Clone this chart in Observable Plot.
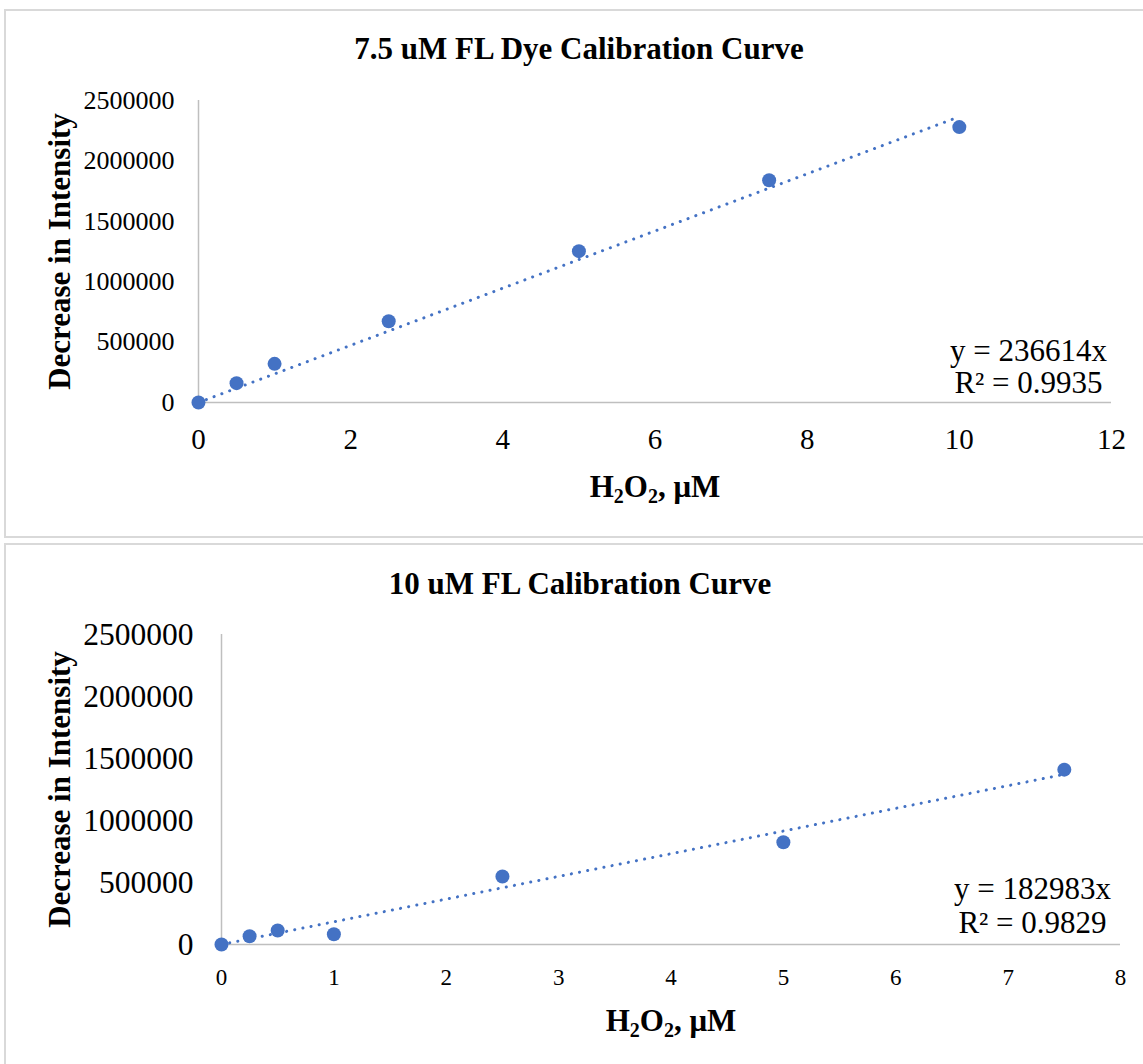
<!DOCTYPE html>
<html>
<head>
<meta charset="utf-8">
<script src="https://cdn.jsdelivr.net/npm/d3@7"></script>
<script src="https://cdn.jsdelivr.net/npm/@observablehq/plot@0.6"></script>
<style>
  body { margin:0; width:1143px; height:1064px; overflow:hidden; background:#fff; position:relative;
         font-family:"Liberation Serif","Times New Roman",serif; color:#000; }
  .box { position:absolute; left:4px; width:1160px; border:2px solid #d9d9d9; box-sizing:border-box; }
  .title { position:absolute; font-weight:bold; font-size:31px; white-space:nowrap; line-height:1;
           transform:translate(-50%,-50%); }
  .chart { position:absolute; left:0; }
  .chart svg { overflow:visible; }
</style>
</head>
<body>
<div class="box" style="top:9px;height:529px"></div>
<div class="box" style="top:543px;height:560px"></div>
<div class="title" style="left:579px;top:48px">7.5 uM FL Dye Calibration Curve</div>
<div class="title" style="left:580px;top:583px">10 uM FL Calibration Curve</div>
<div class="chart" id="c1" style="top:75px"></div>
<div class="chart" id="c2" style="top:610px"></div>
<script>
// ---- data ----
const topX = [0, 0.5, 1, 2.5, 5, 7.5, 10];
const topY = [0, 160000, 320000, 673000, 1253000, 1840000, 2280000];
const topSlope = 236614;
const topEq = "y = 236614x";
const topR2 = "R² = 0.9935";
const topXTicks = [0, 2, 4, 6, 8, 10, 12];

const botX = [0, 0.25, 0.5, 1, 2.5, 5, 7.5];
const botY = [0, 67000, 113000, 83000, 548000, 825000, 1410000];
const botSlope = 182983;
const botEq = "y = 182983x";
const botR2 = "R² = 0.9829";
const botXTicks = [0, 1, 2, 3, 4, 5, 6, 7, 8];

const yTicks = [0, 500000, 1000000, 1500000, 2000000, 2500000];
const xLabel = "H2O2, μM";
const yLabel = "Decrease in Intensity";

const blue = "#4472C4";
const axisGray = "#bfbfbf";

function makeChart(cfg) {
  const pts = cfg.xs.map((x, i) => ({x, y: cfg.ys[i]}));
  const xmax = d3.max(cfg.xs);
  const trend = [{x: 0, y: 0}, {x: xmax, y: cfg.slope * xmax}];
  const svg = Plot.plot({
    width: 1143,
    height: cfg.height,
    marginLeft: cfg.ml, marginRight: cfg.mr, marginTop: cfg.mt, marginBottom: cfg.mb,
    style: {fontFamily: '"Liberation Serif","Times New Roman",serif', background: "transparent", color: "#000"},
    x: {domain: cfg.xdomain},
    y: {domain: [0, 2500000]},
    marks: [
      Plot.ruleX([0], {stroke: axisGray, strokeWidth: 1.5}),
      Plot.ruleY([0], {stroke: axisGray, strokeWidth: 1.5}),
      Plot.axisY({ticks: yTicks, tickSize: 0, tickPadding: cfg.ypad, fontSize: cfg.yfs, label: null,
                  tickFormat: d => String(d)}),
      Plot.axisX({ticks: cfg.xticks, tickSize: 0, tickPadding: cfg.xpad, fontSize: cfg.xfs, label: null,
                  tickFormat: d => String(d)}),
      Plot.line(trend, {x: "x", y: "y", stroke: blue, strokeWidth: 3, strokeDasharray: "0.1 8.2", strokeLinecap: "round"}),
      Plot.dot(pts, {x: "x", y: "y", r: 7, fill: blue, stroke: "none"}),
      Plot.text([cfg.eq], {frameAnchor: "bottom-right", dx: cfg.eqdx, dy: cfg.eqdy1, textAnchor: "middle", lineAnchor: "middle", fontSize: 31}),
      Plot.text([cfg.r2], {frameAnchor: "bottom-right", dx: cfg.eqdx, dy: cfg.eqdy2, textAnchor: "middle", lineAnchor: "middle", fontSize: 31}),
      Plot.text([xLabel], {frameAnchor: "bottom", dy: cfg.xldy, textAnchor: "middle", lineAnchor: "middle", fontSize: 31, fontWeight: "bold"}),
      Plot.text([yLabel], {frameAnchor: "left", dx: cfg.yldx, rotate: -90, textAnchor: "middle", lineAnchor: "middle", fontSize: 31, fontWeight: "bold"})
    ]
  });
  // subscripts in x label
  svg.querySelectorAll("text").forEach(t => {
    if (t.textContent === xLabel) {
      t.textContent = "";
      const ns = "http://www.w3.org/2000/svg";
      const parts = [["H", 0], ["2", 1], ["O", 0], ["2", 1], [", μM", 0]];
      let shifted = false;
      for (const [s, sub] of parts) {
        const ts = document.createElementNS(ns, "tspan");
        ts.textContent = s;
        if (sub) { ts.setAttribute("font-size", "20"); ts.setAttribute("dy", "6"); shifted = true; }
        else if (shifted) { ts.setAttribute("dy", "-6"); shifted = false; }
        t.appendChild(ts);
      }
    }
  });
  return svg;
}

document.getElementById("c1").appendChild(makeChart({
  xs: topX, ys: topY, slope: topSlope, eq: topEq, r2: topR2,
  height: 455, ml: 198, mr: 32, mt: 25, mb: 128,
  xdomain: [0, 12], xticks: topXTicks,
  ypad: 24, yfs: 26, xpad: 26, xfs: 29,
  eqdx: -83, eqdy1: -51, eqdy2: -19,
  xldy: 85, yldx: -138
}));

document.getElementById("c2").appendChild(makeChart({
  xs: botX, ys: botY, slope: botSlope, eq: botEq, r2: botR2,
  height: 454, ml: 221, mr: 23, mt: 24, mb: 120,
  xdomain: [0, 8], xticks: botXTicks,
  ypad: 28, yfs: 31.5, xpad: 24, xfs: 23,
  eqdx: -88, eqdy1: -55, eqdy2: -21,
  xldy: 77, yldx: -161
}));
</script>
</body>
</html>
